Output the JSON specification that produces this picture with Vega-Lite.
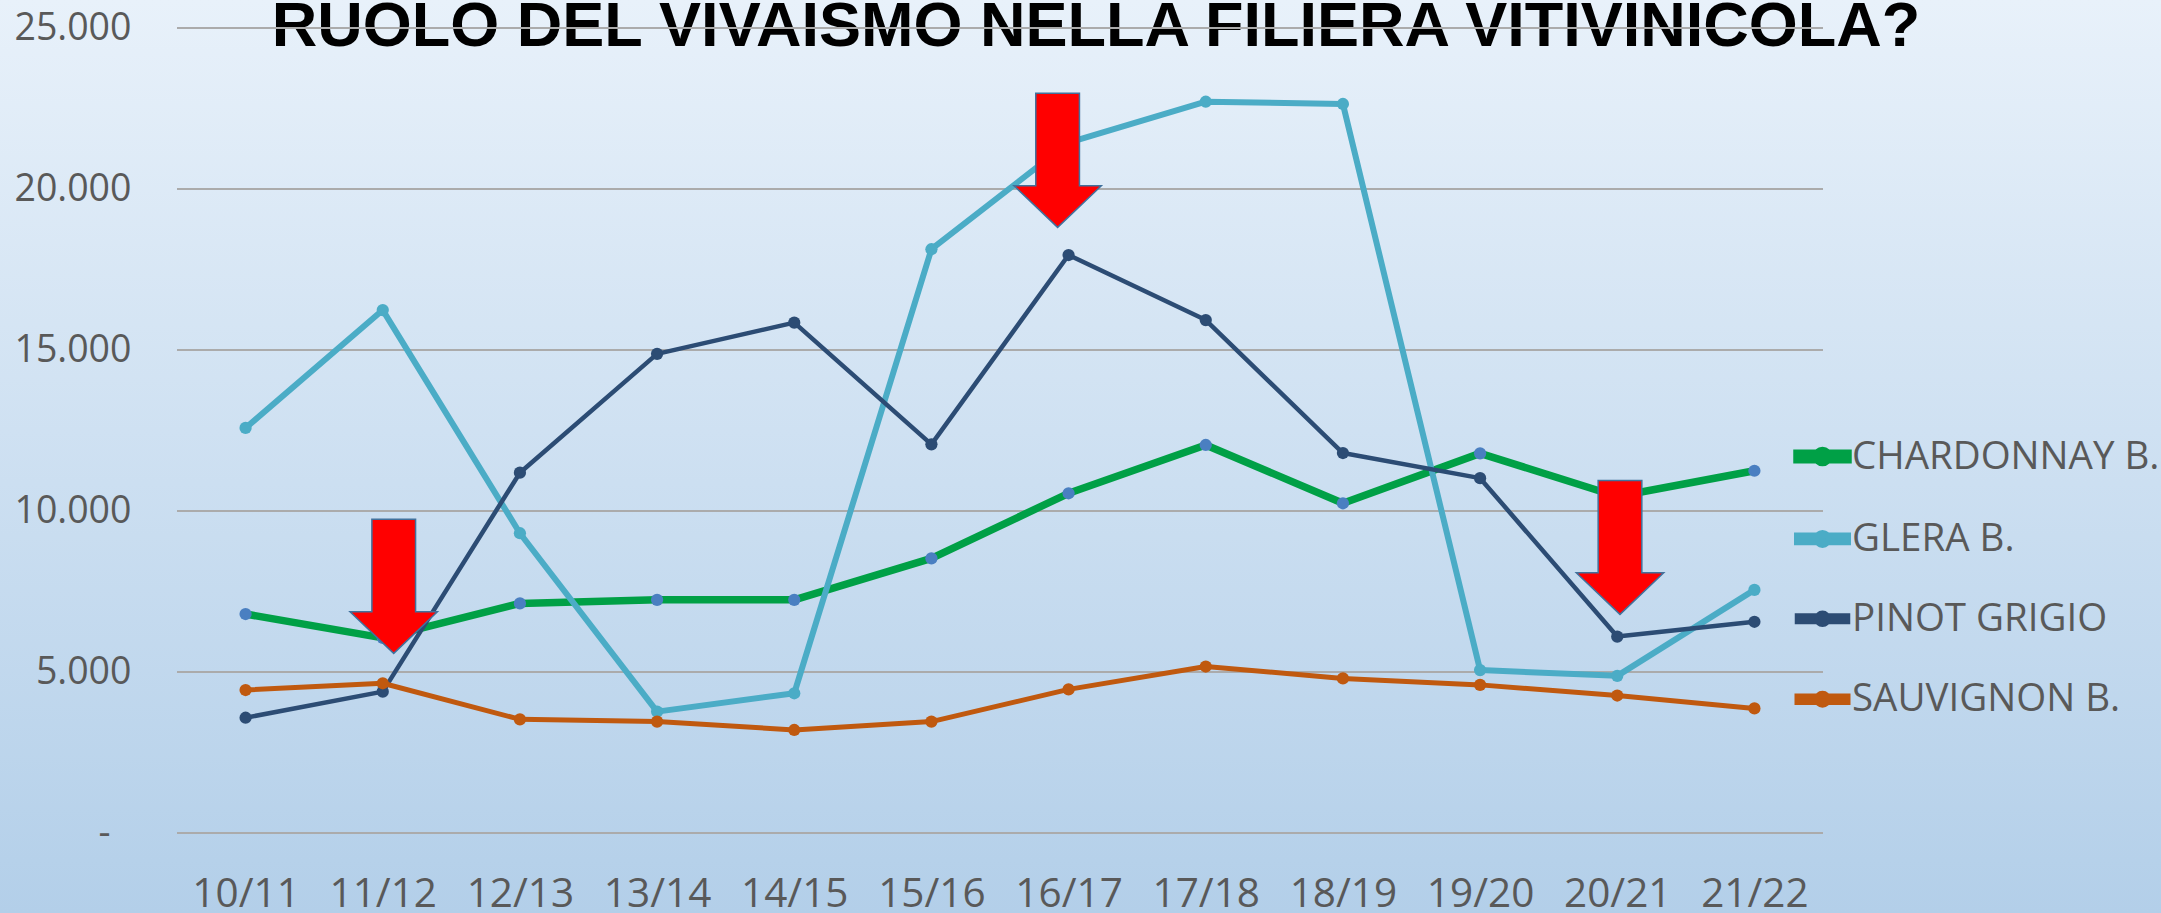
{
  "$schema": "https://vega.github.io/schema/vega-lite/v6.json",
  "width": 2161,
  "height": 913,
  "autosize": {"type": "none"},
  "padding": 0,
  "background": "#cfe1f2",
  "view": {
    "stroke": null,
    "fill": {
      "gradient": "linear",
      "x1": 0, "y1": 0, "x2": 0, "y2": 1,
      "stops": [
        {"offset": 0, "color": "#e8f1fa"},
        {"offset": 1, "color": "#b3cfe9"}
      ]
    }
  },
  "datasets": {
    "series": [
      {"s": "10/11", "i": 0, "v": "CHARDONNAY B.", "n": 6800},
      {"s": "11/12", "i": 1, "v": "CHARDONNAY B.", "n": 6060},
      {"s": "12/13", "i": 2, "v": "CHARDONNAY B.", "n": 7130},
      {"s": "13/14", "i": 3, "v": "CHARDONNAY B.", "n": 7240},
      {"s": "14/15", "i": 4, "v": "CHARDONNAY B.", "n": 7240},
      {"s": "15/16", "i": 5, "v": "CHARDONNAY B.", "n": 8530},
      {"s": "16/17", "i": 6, "v": "CHARDONNAY B.", "n": 10550},
      {"s": "17/18", "i": 7, "v": "CHARDONNAY B.", "n": 12050},
      {"s": "18/19", "i": 8, "v": "CHARDONNAY B.", "n": 10240},
      {"s": "19/20", "i": 9, "v": "CHARDONNAY B.", "n": 11790},
      {"s": "20/21", "i": 10, "v": "CHARDONNAY B.", "n": 10450},
      {"s": "21/22", "i": 11, "v": "CHARDONNAY B.", "n": 11250},
      {"s": "10/11", "i": 0, "v": "GLERA B.", "n": 12580},
      {"s": "11/12", "i": 1, "v": "GLERA B.", "n": 16240},
      {"s": "12/13", "i": 2, "v": "GLERA B.", "n": 9310},
      {"s": "13/14", "i": 3, "v": "GLERA B.", "n": 3770},
      {"s": "14/15", "i": 4, "v": "GLERA B.", "n": 4340},
      {"s": "15/16", "i": 5, "v": "GLERA B.", "n": 18130},
      {"s": "16/17", "i": 6, "v": "GLERA B.", "n": 21440},
      {"s": "17/18", "i": 7, "v": "GLERA B.", "n": 22710},
      {"s": "18/19", "i": 8, "v": "GLERA B.", "n": 22640},
      {"s": "19/20", "i": 9, "v": "GLERA B.", "n": 5060},
      {"s": "20/21", "i": 10, "v": "GLERA B.", "n": 4880},
      {"s": "21/22", "i": 11, "v": "GLERA B.", "n": 7550},
      {"s": "10/11", "i": 0, "v": "PINOT GRIGIO", "n": 3580},
      {"s": "11/12", "i": 1, "v": "PINOT GRIGIO", "n": 4390},
      {"s": "12/13", "i": 2, "v": "PINOT GRIGIO", "n": 11190},
      {"s": "13/14", "i": 3, "v": "PINOT GRIGIO", "n": 14880},
      {"s": "14/15", "i": 4, "v": "PINOT GRIGIO", "n": 15850},
      {"s": "15/16", "i": 5, "v": "PINOT GRIGIO", "n": 12070},
      {"s": "16/17", "i": 6, "v": "PINOT GRIGIO", "n": 17950},
      {"s": "17/18", "i": 7, "v": "PINOT GRIGIO", "n": 15930},
      {"s": "18/19", "i": 8, "v": "PINOT GRIGIO", "n": 11800},
      {"s": "19/20", "i": 9, "v": "PINOT GRIGIO", "n": 11020},
      {"s": "20/21", "i": 10, "v": "PINOT GRIGIO", "n": 6100},
      {"s": "21/22", "i": 11, "v": "PINOT GRIGIO", "n": 6560},
      {"s": "10/11", "i": 0, "v": "SAUVIGNON B.", "n": 4440},
      {"s": "11/12", "i": 1, "v": "SAUVIGNON B.", "n": 4650},
      {"s": "12/13", "i": 2, "v": "SAUVIGNON B.", "n": 3530},
      {"s": "13/14", "i": 3, "v": "SAUVIGNON B.", "n": 3460},
      {"s": "14/15", "i": 4, "v": "SAUVIGNON B.", "n": 3200},
      {"s": "15/16", "i": 5, "v": "SAUVIGNON B.", "n": 3460},
      {"s": "16/17", "i": 6, "v": "SAUVIGNON B.", "n": 4460},
      {"s": "17/18", "i": 7, "v": "SAUVIGNON B.", "n": 5170},
      {"s": "18/19", "i": 8, "v": "SAUVIGNON B.", "n": 4800},
      {"s": "19/20", "i": 9, "v": "SAUVIGNON B.", "n": 4600},
      {"s": "20/21", "i": 10, "v": "SAUVIGNON B.", "n": 4270},
      {"s": "21/22", "i": 11, "v": "SAUVIGNON B.", "n": 3870}
    ],
    "grid": [
      {"g": 0}, {"g": 5000}, {"g": 10000}, {"g": 15000}, {"g": 20000}, {"g": 25000}
    ],
    "arrows": [
      {"i": 1.08, "n": 7660},
      {"i": 5.92, "n": 20890},
      {"i": 10.02, "n": 8870}
    ],
    "titles": [
      {"t": "RUOLO DEL VIVAISMO NELLA FILIERA VITIVINICOLA?", "i": 6.2, "n": 24441}
    ]
  },
  "layer": [
    {
      "data": {"name": "titles"},
      "mark": {
        "type": "text",
        "font": "Liberation Sans",
        "fontWeight": "bold",
        "fontSize": 63,
        "color": "#000000",
        "align": "center",
        "baseline": "alphabetic"
      },
      "encoding": {
        "x": {"field": "i", "type": "quantitative"},
        "y": {"field": "n", "type": "quantitative"},
        "text": {"field": "t"}
      }
    },
    {
      "data": {"name": "grid"},
      "mark": {"type": "rule", "color": "#ababab", "strokeWidth": 2},
      "encoding": {
        "y": {"field": "g", "type": "quantitative"},
        "x": {"datum": -0.5, "type": "quantitative"},
        "x2": {"datum": 11.5}
      }
    },
    {
      "data": {"name": "series"},
      "mark": {"type": "line", "strokeJoin": "round", "strokeCap": "round"},
      "encoding": {
        "x": {
          "field": "i",
          "type": "quantitative",
          "scale": {"domain": [-0.5, 11.5], "range": [177, 1823], "nice": false, "zero": false},
          "axis": {
            "orient": "bottom",
            "offset": -80,
            "zindex": 2,
            "values": [0, 1, 2, 3, 4, 5, 6, 7, 8, 9, 10, 11],
            "labelExpr": "['10/11','11/12','12/13','13/14','14/15','15/16','16/17','17/18','18/19','19/20','20/21','21/22'][datum.value]",
            "title": null,
            "domain": false,
            "ticks": false,
            "grid": false,
            "labelFont": "Open Sans",
            "labelFontSize": 40.5,
            "labelColor": "#595959",
            "labelPadding": 41,
            "labelFlush": false,
            "labelOverlap": false
          }
        },
        "y": {
          "field": "n",
          "type": "quantitative",
          "scale": {"domain": [0, 25000], "range": [833, 28], "nice": false, "zero": false},
          "axis": {
            "orient": "left",
            "offset": -177,
            "zindex": 2,
            "values": [0, 5000, 10000, 15000, 20000, 25000],
            "labelExpr": "datum.value === 0 ? '-' : replace(format(datum.value, ','), ',', '.')",
            "title": null,
            "domain": false,
            "ticks": false,
            "grid": false,
            "labelFont": "Open Sans",
            "labelFontSize": 37.5,
            "labelColor": "#595959",
            "labelPadding": {"condition": {"test": "datum.value === 0", "value": 67}, "value": 46},
            "labelFlush": false,
            "labelOverlap": false
          }
        },
        "color": {
          "field": "v",
          "type": "nominal",
          "scale": {
            "domain": ["CHARDONNAY B.", "GLERA B.", "PINOT GRIGIO", "SAUVIGNON B."],
            "range": ["#00a046", "#4bacc6", "#2c4c74", "#c0590f"]
          },
          "legend": {
            "orient": "none",
            "legendX": 1793,
            "legendY": 427,
            "zindex": 2,
            "title": null,
            "padding": 0,
            "symbolType": "M-1,-0.13L1,-0.13L1,0.13L-1,0.13Z M0,-0.235A0.235,0.235 0 1 1 0,0.235A0.235,0.235 0 1 1 0,-0.235Z",
            "symbolSize": 2601,
            "symbolStrokeWidth": 0,
            "labelFont": "Open Sans",
            "labelFontSize": 38.5,
            "labelColor": "#595959",
            "labelOffset": 0,
            "labelLimit": 0,
            "rowPadding": 32.4,
            "encode": {
              "symbols": {
                "update": {
                  "fill": {"scale": "color", "field": "value"},
                  "stroke": {"value": "transparent"}
                }
              }
            }
          }
        },
        "strokeWidth": {
          "field": "v",
          "type": "nominal",
          "scale": {
            "type": "ordinal",
            "domain": ["CHARDONNAY B.", "GLERA B.", "PINOT GRIGIO", "SAUVIGNON B."],
            "range": [7.5, 6, 4.5, 5]
          },
          "legend": null
        },
        "order": {"field": "i", "type": "quantitative"}
      }
    },
    {
      "data": {"name": "series"},
      "mark": {"type": "point", "filled": true, "opacity": 1, "size": 150, "shape": "circle"},
      "encoding": {
        "x": {"field": "i", "type": "quantitative"},
        "y": {"field": "n", "type": "quantitative"},
        "fill": {
          "field": "v",
          "type": "nominal",
          "scale": {
            "domain": ["CHARDONNAY B.", "GLERA B.", "PINOT GRIGIO", "SAUVIGNON B."],
            "range": ["#4a7fc1", "#4bacc6", "#2c4c74", "#c0590f"]
          },
          "legend": null
        }
      }
    },
    {
      "data": {"name": "arrows"},
      "mark": {
        "type": "point",
        "filled": true,
        "opacity": 1,
        "shape": "M-0.326,-1L0.326,-1L0.326,0.378L0.652,0.378L0,1L-0.652,0.378L-0.326,0.378Z",
        "size": 17956,
        "fill": "#ff0000",
        "stroke": "#41719c",
        "strokeWidth": 1.5
      },
      "encoding": {
        "x": {"field": "i", "type": "quantitative"},
        "y": {"field": "n", "type": "quantitative"}
      }
    }
  ]
}
